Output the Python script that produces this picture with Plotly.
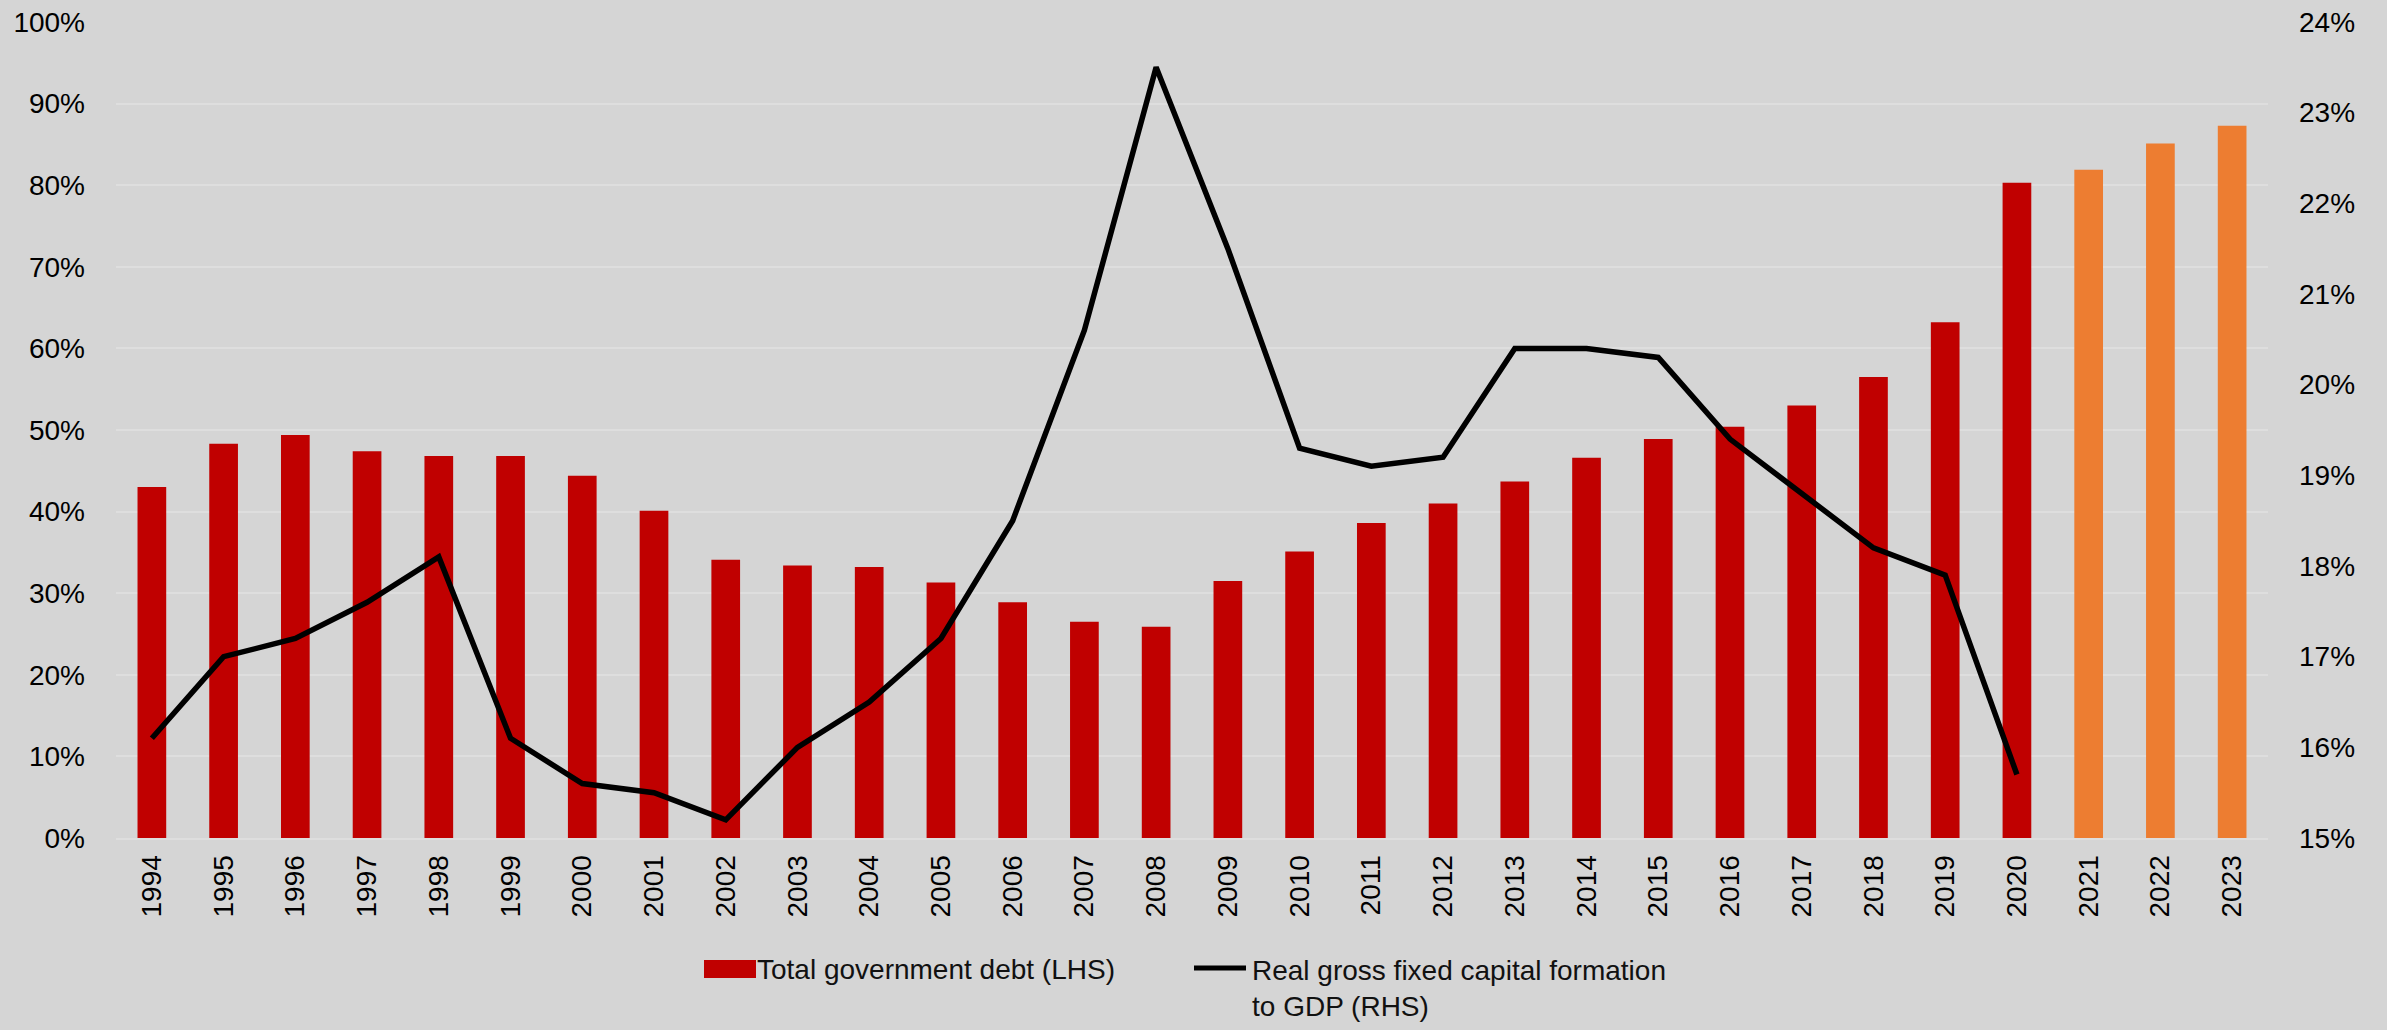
import plotly.graph_objects as go

years = [str(y) for y in range(1994, 2024)]
debt = [43.0, 48.3, 49.4, 47.4, 46.8, 46.8, 44.4, 40.1, 34.1, 33.4, 33.2, 31.3, 28.9, 26.5, 25.9,
        31.5, 35.1, 38.6, 41.0, 43.7, 46.6, 48.9, 50.4, 53.0, 56.5, 63.2, 80.3, 81.9, 85.1, 87.3]
forecast_from = "2021"
gfcf_years = [str(y) for y in range(1994, 2021)]
gfcf = [16.1, 17.0, 17.2, 17.6, 18.1, 16.1, 15.6, 15.5, 15.2, 16.0, 16.5, 17.2, 18.5, 20.6, 23.5,
        21.5, 19.3, 19.1, 19.2, 20.4, 20.4, 20.3, 19.4, 18.8, 18.2, 17.9, 15.7]
left_ticks = list(range(0, 101, 10))
right_ticks = list(range(15, 25, 1))
debt_label = "Total government debt (LHS)"
gfcf_label = "Real gross fixed capital formation<br>to GDP (RHS)"

RED = "#c00000"
ORANGE = "#ed7d31"
BG = "#d5d5d5"
GRID = "#dedede"
FONT = "Liberation Sans, Arial, sans-serif"

W, H = 2387, 1030
ML, MR, MT, MB = 116, 119, 22, 192
PW, PH = W - ML - MR, H - MT - MB

colors = [ORANGE if int(y) >= int(forecast_from) else RED for y in years]

fig = go.Figure()
fig.add_trace(go.Bar(x=years, y=[v / 100 for v in debt], marker=dict(color=colors, line=dict(width=0)),
                     name=debt_label, showlegend=False))
fig.add_trace(go.Scatter(x=gfcf_years, y=[v / 100 for v in gfcf], mode="lines",
                         line=dict(color="black", width=5.5), yaxis="y2",
                         name=gfcf_label, showlegend=False))


def px_x(px):
    return (px - ML) / PW


def px_y(py):
    return (H - MB - py) / PH


shapes = [
    dict(type="rect", xref="paper", yref="paper", x0=px_x(704), x1=px_x(756), y0=px_y(978), y1=px_y(960),
         fillcolor=RED, line=dict(width=0)),
    dict(type="line", xref="paper", yref="paper", x0=px_x(1194), x1=px_x(1246), y0=px_y(968), y1=px_y(968),
         line=dict(color="black", width=5)),
]
annotations = [
    dict(text=debt_label, xref="paper", yref="paper", x=px_x(755), y=px_y(969), xanchor="left", yanchor="middle",
         showarrow=False, align="left", font=dict(family=FONT, size=28, color="#111111")),
    dict(text=gfcf_label, xref="paper", yref="paper", x=px_x(1250), y=px_y(988), xanchor="left", yanchor="middle",
         showarrow=False, align="left", font=dict(family=FONT, size=28, color="#111111")),
]

tickfont = dict(family=FONT, size=28, color="black")
fig.update_layout(
    width=W, height=H,
    margin=dict(l=ML, r=MR, t=MT, b=MB),
    paper_bgcolor=BG, plot_bgcolor=BG,
    bargap=0.6,
    showlegend=False,
    font=dict(family=FONT, size=28, color="black"),
    xaxis=dict(type="category", tickangle=-90, showgrid=False, showline=True, linecolor=GRID, linewidth=2,
               ticks="", ticklabelstandoff=4, tickfont=tickfont, automargin=False),
    yaxis=dict(range=[0, 1], tickvals=[t / 100 for t in left_ticks], tickformat=".0%", showgrid=True,
               gridcolor=GRID, gridwidth=2, zeroline=False, ticks="", ticklabelstandoff=30,
               tickfont=tickfont, automargin=False),
    yaxis2=dict(range=[0.15, 0.24], tickvals=[t / 100 for t in right_ticks], tickformat=".0%", overlaying="y",
                side="right", showgrid=False, zeroline=False, ticks="", ticklabelstandoff=30,
                tickfont=tickfont, automargin=False),
    shapes=shapes,
    annotations=annotations,
)

fig.write_html(
    "out.html",
    config={"displayModeBar": False},
    post_script="document.body.style.margin='0';document.body.style.padding='0';"
                "document.body.style.background='" + BG + "';",
)
